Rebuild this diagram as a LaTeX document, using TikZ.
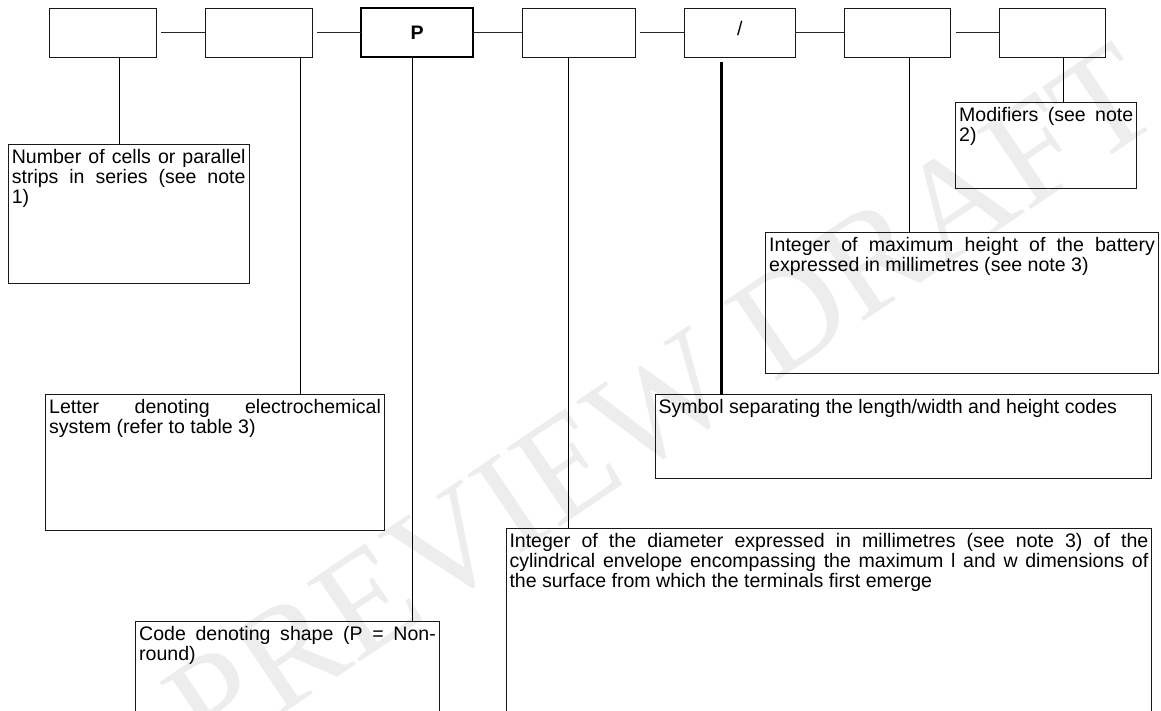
\documentclass[tikz,border=0pt]{standalone}
\usepackage{fontspec}
\setmainfont{Liberation Sans}
\newfontfamily\markfont{Liberation Serif}
\usetikzlibrary{matrix}

\tikzset{
  link/.style={draw=black!85, line width=0.6pt},
  drop/.style={draw=black, line width=0.6pt},
  descbox/.style={draw=black!90, line width=0.6pt, anchor=north west,
    inner xsep=0.0875cm, inner ysep=0.125cm, outer sep=0pt,
    execute at begin node=\sloppy},
}

\def\CodeRow{
    \matrix (code)
    [matrix of nodes,
    nodes in empty cells,
    ampersand replacement=\&,
    column sep={1.2cm},
    inner sep=0pt,
    nodes={anchor=center, outer sep=0pt, inner sep=0pt, draw=black!90, line width=0.6pt, rectangle, minimum height=1.225cm} ]
    at (577.7,32.5)
    {
     |[minimum width=2.665cm]| \& |[minimum width=2.6675cm]| \& |[minimum width=2.79cm, line width=1.3pt, draw=black]| \raisebox{-1.8pt}{\textbf{P}} \& |[minimum width=2.83cm]| \& |[minimum width=2.775cm]| \raisebox{5.3pt}{/} \& |[minimum width=2.6575cm]| \& |[minimum width=2.655cm]| \\
    };
}

\begin{document}
\begin{tikzpicture}[x=0.025cm, y=-0.025cm, font=\fontsize{13.9pt}{14.2pt}\selectfont]
    \useasboundingbox (0,0) rectangle (1161,710);
    % watermark behind everything
    \node (mark) [text=black!7, font=\markfont\fontsize{103pt}{103pt}\selectfont, rotate=34] at (662,402) {PREVIEW DRAFT};

    \CodeRow
    \draw[link, shorten <=3.5pt] (code-1-1) -- (code-1-2);
    \draw[link, shorten <=3.5pt] (code-1-2) -- (code-1-3);
    \draw[link] (code-1-3) -- (code-1-4);
    \draw[link, shorten <=3.5pt] (code-1-4) -- (code-1-5);
    \draw[link] (code-1-5) -- (code-1-6);
    \draw[link, shorten <=3.5pt] (code-1-6) -- (code-1-7);

    % descriptions
    \node (cells) [descbox] at (8.3,144) {\parbox[t][3.225cm][t]{5.8425cm}{Number of cells or parallel\linebreak strips in series (see note\linebreak 1)}};
    \node (letter) [descbox] at (45.7,394) {\parbox[t][3.15cm][t]{8.29cm}{Letter denoting electrochemical\linebreak system (refer to table 3)}};
    \node (shape) [descbox] at (135.7,621) {\parbox[t][3.225cm][t]{7.415cm}{Code denoting shape (P = Non-\linebreak round)}};
    \node (diameter) [descbox] at (506,528) {\parbox[t][5.75cm][t]{15.9675cm}{Integer of the diameter expressed in millimetres (see note 3) of the\linebreak cylindrical envelope encompassing the maximum l and w dimensions of\linebreak the surface from which the terminals first emerge}};
    \node (symbol) [descbox] at (655,394.5) {\parbox[t][1.845cm][t]{12.2425cm}{Symbol separating the length/width and height codes}};
    \node (height) [descbox] at (765.7,232.3) {\parbox[t][3.2675cm][t]{9.64cm}{Integer of maximum height of the battery\linebreak expressed in millimetres (see note 3)}};
    \node (modifiers) [descbox] at (955.7,102) {\parbox[t][1.9075cm][t]{4.35cm}{Modifiers (see note\linebreak 2)}};

    % drop lines
    \coordinate (dropcells) at (119.8,0);
    \coordinate (dropletter) at (300,0);
    \coordinate (dropshape) at (412,0);
    \coordinate (dropdiameter) at (568,0);
    \coordinate (dropsymbol) at (721.5,0);
    \coordinate (dropheight) at (909,0);
    \coordinate (dropmodifiers) at (1063.5,0);
    \draw[drop] (code-1-1.south -| dropcells) -- (cells.north -| dropcells);
    \draw[drop] (code-1-2.south -| dropletter) -- (letter.north -| dropletter);
    \draw[drop] (code-1-3.south -| dropshape) -- (shape.north -| dropshape);
    \draw[drop] (code-1-4.south -| dropdiameter) -- (diameter.north -| dropdiameter);
    \draw[drop, line width=1.5pt, shorten <=3.5pt] (code-1-5.south -| dropsymbol) -- (symbol.north -| dropsymbol);
    \draw[drop] (code-1-6.south -| dropheight) -- (height.north -| dropheight);
    \draw[drop] (code-1-7.south -| dropmodifiers) -- (modifiers.north -| dropmodifiers);
\end{tikzpicture}
\end{document}
